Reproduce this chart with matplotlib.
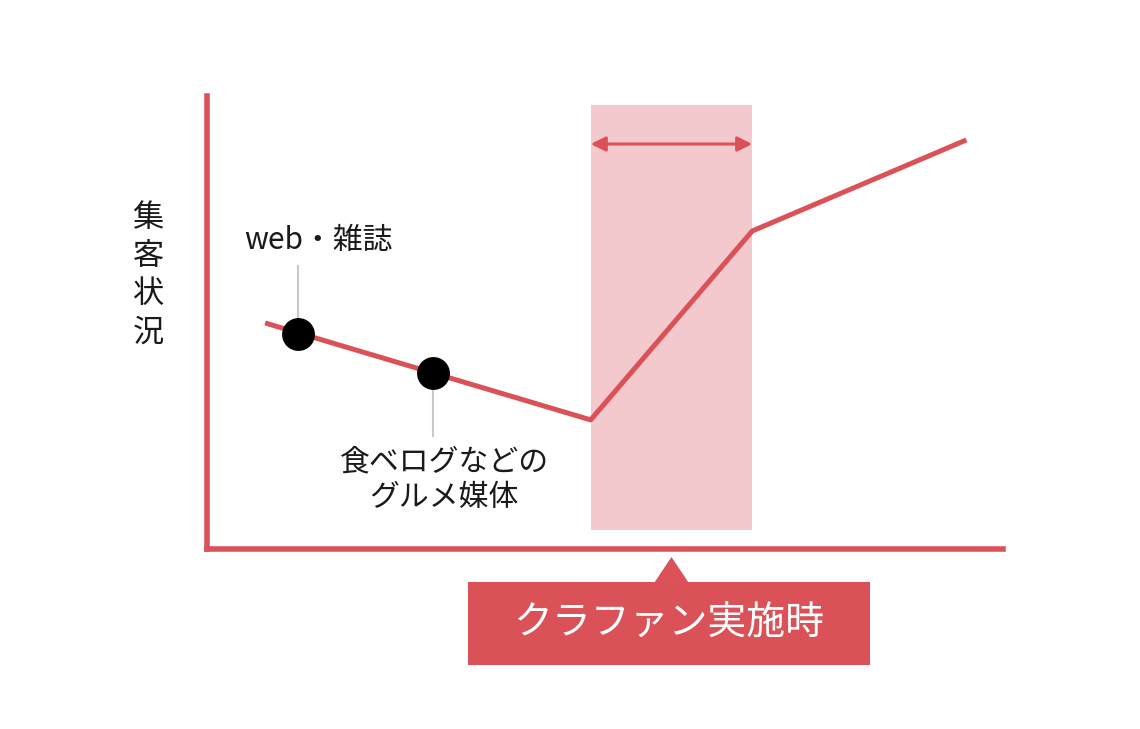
import matplotlib.pyplot as plt
from matplotlib.patches import Rectangle, Polygon
from matplotlib.transforms import blended_transform_factory

plt.rcParams['font.family'] = ['Noto Sans CJK JP', 'DejaVu Sans']

# データ (時間 / 集客状況, 任意単位)
line_x = [7.3, 48.2, 68.5, 95.4]
line_y = [49.9, 28.5, 70.2, 90.3]

media_x = [11.4, 28.4]
media_y = [47.5, 38.9]
media_labels = ["web・雑誌", "食ベログなどの\nグルメ媒体"]

campaign_start = 48.2
campaign_end = 68.5
campaign_label = "クラファン実施時"
ylabel = "集客状況"

red = "#da5258"
pink = "#f4c9cd"

fig = plt.figure(figsize=(11.4, 7.29), dpi=100)
ax = fig.add_axes([207 / 1140, 1 - 549 / 729, 796 / 1140, 453 / 729])
ax.set_xlim(0, 100)
ax.set_ylim(0, 100)

for s in ["top", "right"]:
    ax.spines[s].set_visible(False)
for s in ["left", "bottom"]:
    ax.spines[s].set_color(red)
    ax.spines[s].set_linewidth(4)
    ax.spines[s].set_capstyle("projecting")
ax.set_xticks([])
ax.set_yticks([])

# クラファン期間
ax.axvspan(campaign_start, campaign_end, ymin=0.042, ymax=0.98,
           color=pink, lw=0, zorder=0)
ax.annotate("", xy=(campaign_start, 89.4), xytext=(campaign_end, 89.4),
            arrowprops=dict(arrowstyle="<|-|>", color=red, lw=2.2,
                            mutation_scale=22, shrinkA=0, shrinkB=0))

ax.plot(line_x, line_y, color=red, lw=3.6, solid_capstyle="butt", zorder=2)

# 媒体
ax.plot([media_x[0], media_x[0]], [media_y[0], 62.5], color="#c8c8c8", lw=1.5, zorder=1)
ax.plot([media_x[1], media_x[1]], [media_y[1], 25.0], color="#c8c8c8", lw=1.5, zorder=1)
ax.scatter(media_x, media_y, s=560, color="black", zorder=3, linewidths=0)

ax.text(media_x[0] + 2.6, 68.2, media_labels[0], fontsize=21.5,
        ha="center", va="center", color="#1a1a1a")
ax.text(media_x[1] + 1.4, 15.3, media_labels[1], fontsize=21.5,
        ha="center", va="center", color="#1a1a1a", linespacing=1.2)

# 縦書きラベル
for i, ch in enumerate(ylabel):
    ax.text(-7.4, 73.1 - i * 8.45, ch, fontsize=22.5, ha="center", va="center",
            color="#1a1a1a", transform=ax.transData, clip_on=False)

# ラベルボックス
trans = blended_transform_factory(ax.transData, ax.transAxes)
mid = (campaign_start + campaign_end) / 2
ax.add_patch(Polygon([(mid - 2.1, -0.0728), (mid + 2.1, -0.0728), (mid, -0.0177)],
                     closed=True, color=red, transform=trans, clip_on=False, lw=0))
ax.add_patch(Rectangle((0.328, -0.256), 0.505, 0.1832, color=red,
                       transform=ax.transAxes, clip_on=False, lw=0))
ax.text(0.5805, -0.165, campaign_label, fontsize=28, color="white",
        ha="center", va="center", transform=ax.transAxes)

plt.savefig("out.png", dpi=100)
